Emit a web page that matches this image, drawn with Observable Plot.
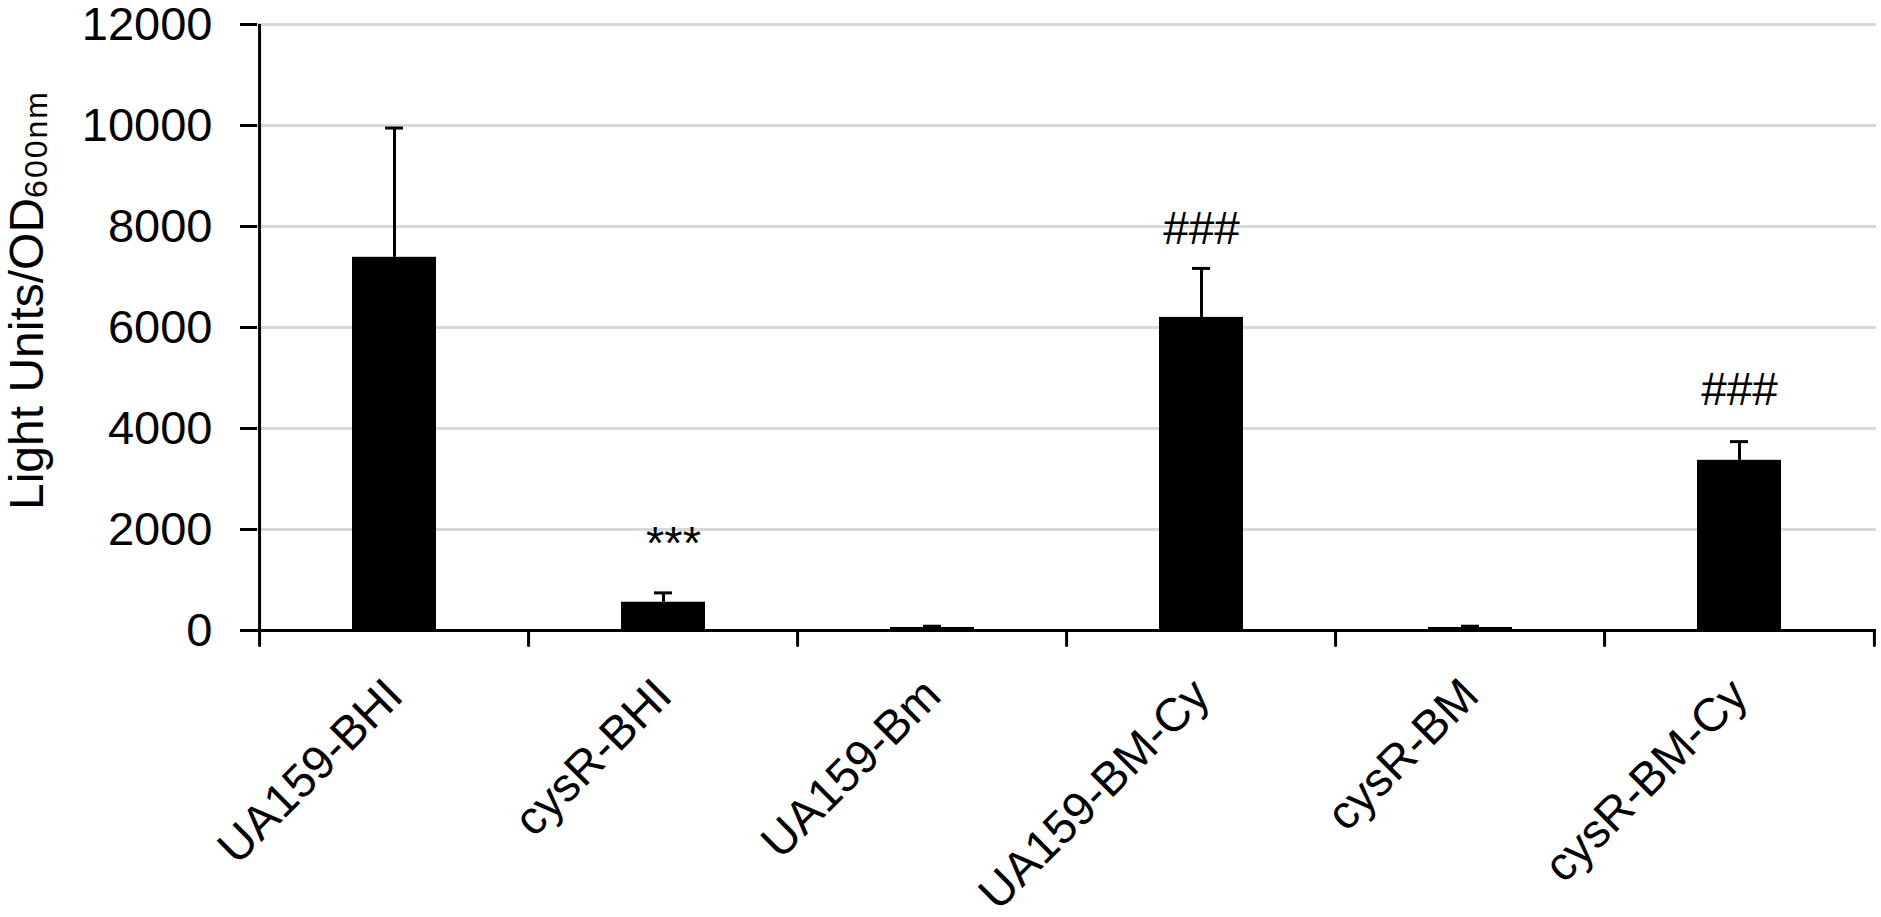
<!DOCTYPE html>
<html>
<head>
<meta charset="utf-8">
<script src="https://cdn.jsdelivr.net/npm/d3@7"></script>
<script src="https://cdn.jsdelivr.net/npm/@observablehq/plot@0.6"></script>
<style>
  html, body { margin: 0; padding: 0; background: #fff; }
  svg { display: block; }
</style>
</head>
<body>
<div id="chart"></div>
<script>
// ---- data ----
const categories = ["UA159-BHI", "cysR-BHI", "UA159-Bm", "UA159-BM-Cy", "cysR-BM", "cysR-BM-Cy"];
const means      = [7390, 560, 60, 6200, 60, 3370];
const errors     = [2560, 185, 25, 970, 25, 370];
const sigLabels  = ["", "***", "", "###", "", "###"];
const sigY       = [null, 1720, null, 7940, null, 4750];
const yTicks     = [0, 2000, 4000, 6000, 8000, 10000, 12000];
const yTitle     = "Light Units/OD";
const yTitleSub  = "600nm";

// ---- tables built from the arrays ----
const rows = categories.map((c, i) => ({cat: c, mean: means[i], top: means[i] + errors[i]}));
const annots = categories.map((c, i) => ({cat: c, label: sigLabels[i], y: sigY[i]})).filter(d => d.label);
const starAnnots = annots.filter(d => d.label.startsWith("*"));
const hashAnnots = annots.filter(d => !d.label.startsWith("*"));

const W = 1881, H = 917, mL = 257, mR = 5, mT = 24, mB = 287;
const step = (W - mL - mR) / categories.length;
const font = "'Liberation Sans', Arial, Helvetica, sans-serif";
const tickShape = {draw(ctx, l) { ctx.moveTo(0, 0); ctx.lineTo(0, -l); }};

const chart = Plot.plot({
  width: W, height: H,
  marginLeft: mL, marginRight: mR, marginTop: mT, marginBottom: mB,
  style: {fontFamily: font, background: "white", color: "black", overflow: "visible"},
  x: {domain: categories, paddingInner: 0.689, paddingOuter: 0.3445, axis: null},
  y: {domain: [0, 12000], axis: null},
  marks: [
    Plot.gridY(yTicks, {stroke: "#d9d9d9", strokeOpacity: 1, strokeWidth: 3}),
    Plot.barY(rows, {x: "cat", y: "mean", fill: "black"}),
    Plot.ruleX(rows, {x: "cat", y1: "mean", y2: "top", stroke: "black", strokeWidth: 3}),
    Plot.tickY(rows, {x: "cat", y: "top", stroke: "black", strokeWidth: 3, inset: 33}),
    Plot.ruleY([0], {stroke: "black", strokeWidth: 3}),
    Plot.ruleX([categories[0]], {dx: -step / 2, stroke: "black", strokeWidth: 3}),
    Plot.vector(categories, {x: d => d, y: () => 0, dx: -step / 2, length: 15, rotate: 180, anchor: "start", shape: tickShape, stroke: "black", strokeWidth: 3}),
    Plot.vector(categories.slice(-1), {x: d => d, y: () => 0, dx: step / 2, length: 15, rotate: 180, anchor: "start", shape: tickShape, stroke: "black", strokeWidth: 3}),
    Plot.axisY({ticks: yTicks, tickSize: 17, tickPadding: 28, fontSize: 47, strokeWidth: 3, tickFormat: d => String(d), label: null}),
    Plot.axisX({tickSize: 0, tickPadding: 57, tickRotate: -45, textAnchor: "end", lineAnchor: "middle", fontSize: 47, label: null}),
    Plot.text(starAnnots, {x: "cat", y: "y", text: "label", fontSize: 47, dx: 10, fill: "black"}),
    Plot.text(hashAnnots, {x: "cat", y: "y", text: "label", fontSize: 46, fill: "black"})
  ]
});

document.getElementById("chart").appendChild(chart);

// y-axis title with subscript
const svg = d3.select(chart);
const t = svg.append("text")
  .attr("transform", "translate(43,510) rotate(-90)")
  .attr("font-family", font)
  .attr("font-size", 48)
  .attr("fill", "black")
  .attr("text-anchor", "start");
t.append("tspan").text(yTitle);
t.append("tspan").attr("font-size", 32).attr("dy", 4).attr("letter-spacing", 2).text(yTitleSub);
</script>
</body>
</html>
